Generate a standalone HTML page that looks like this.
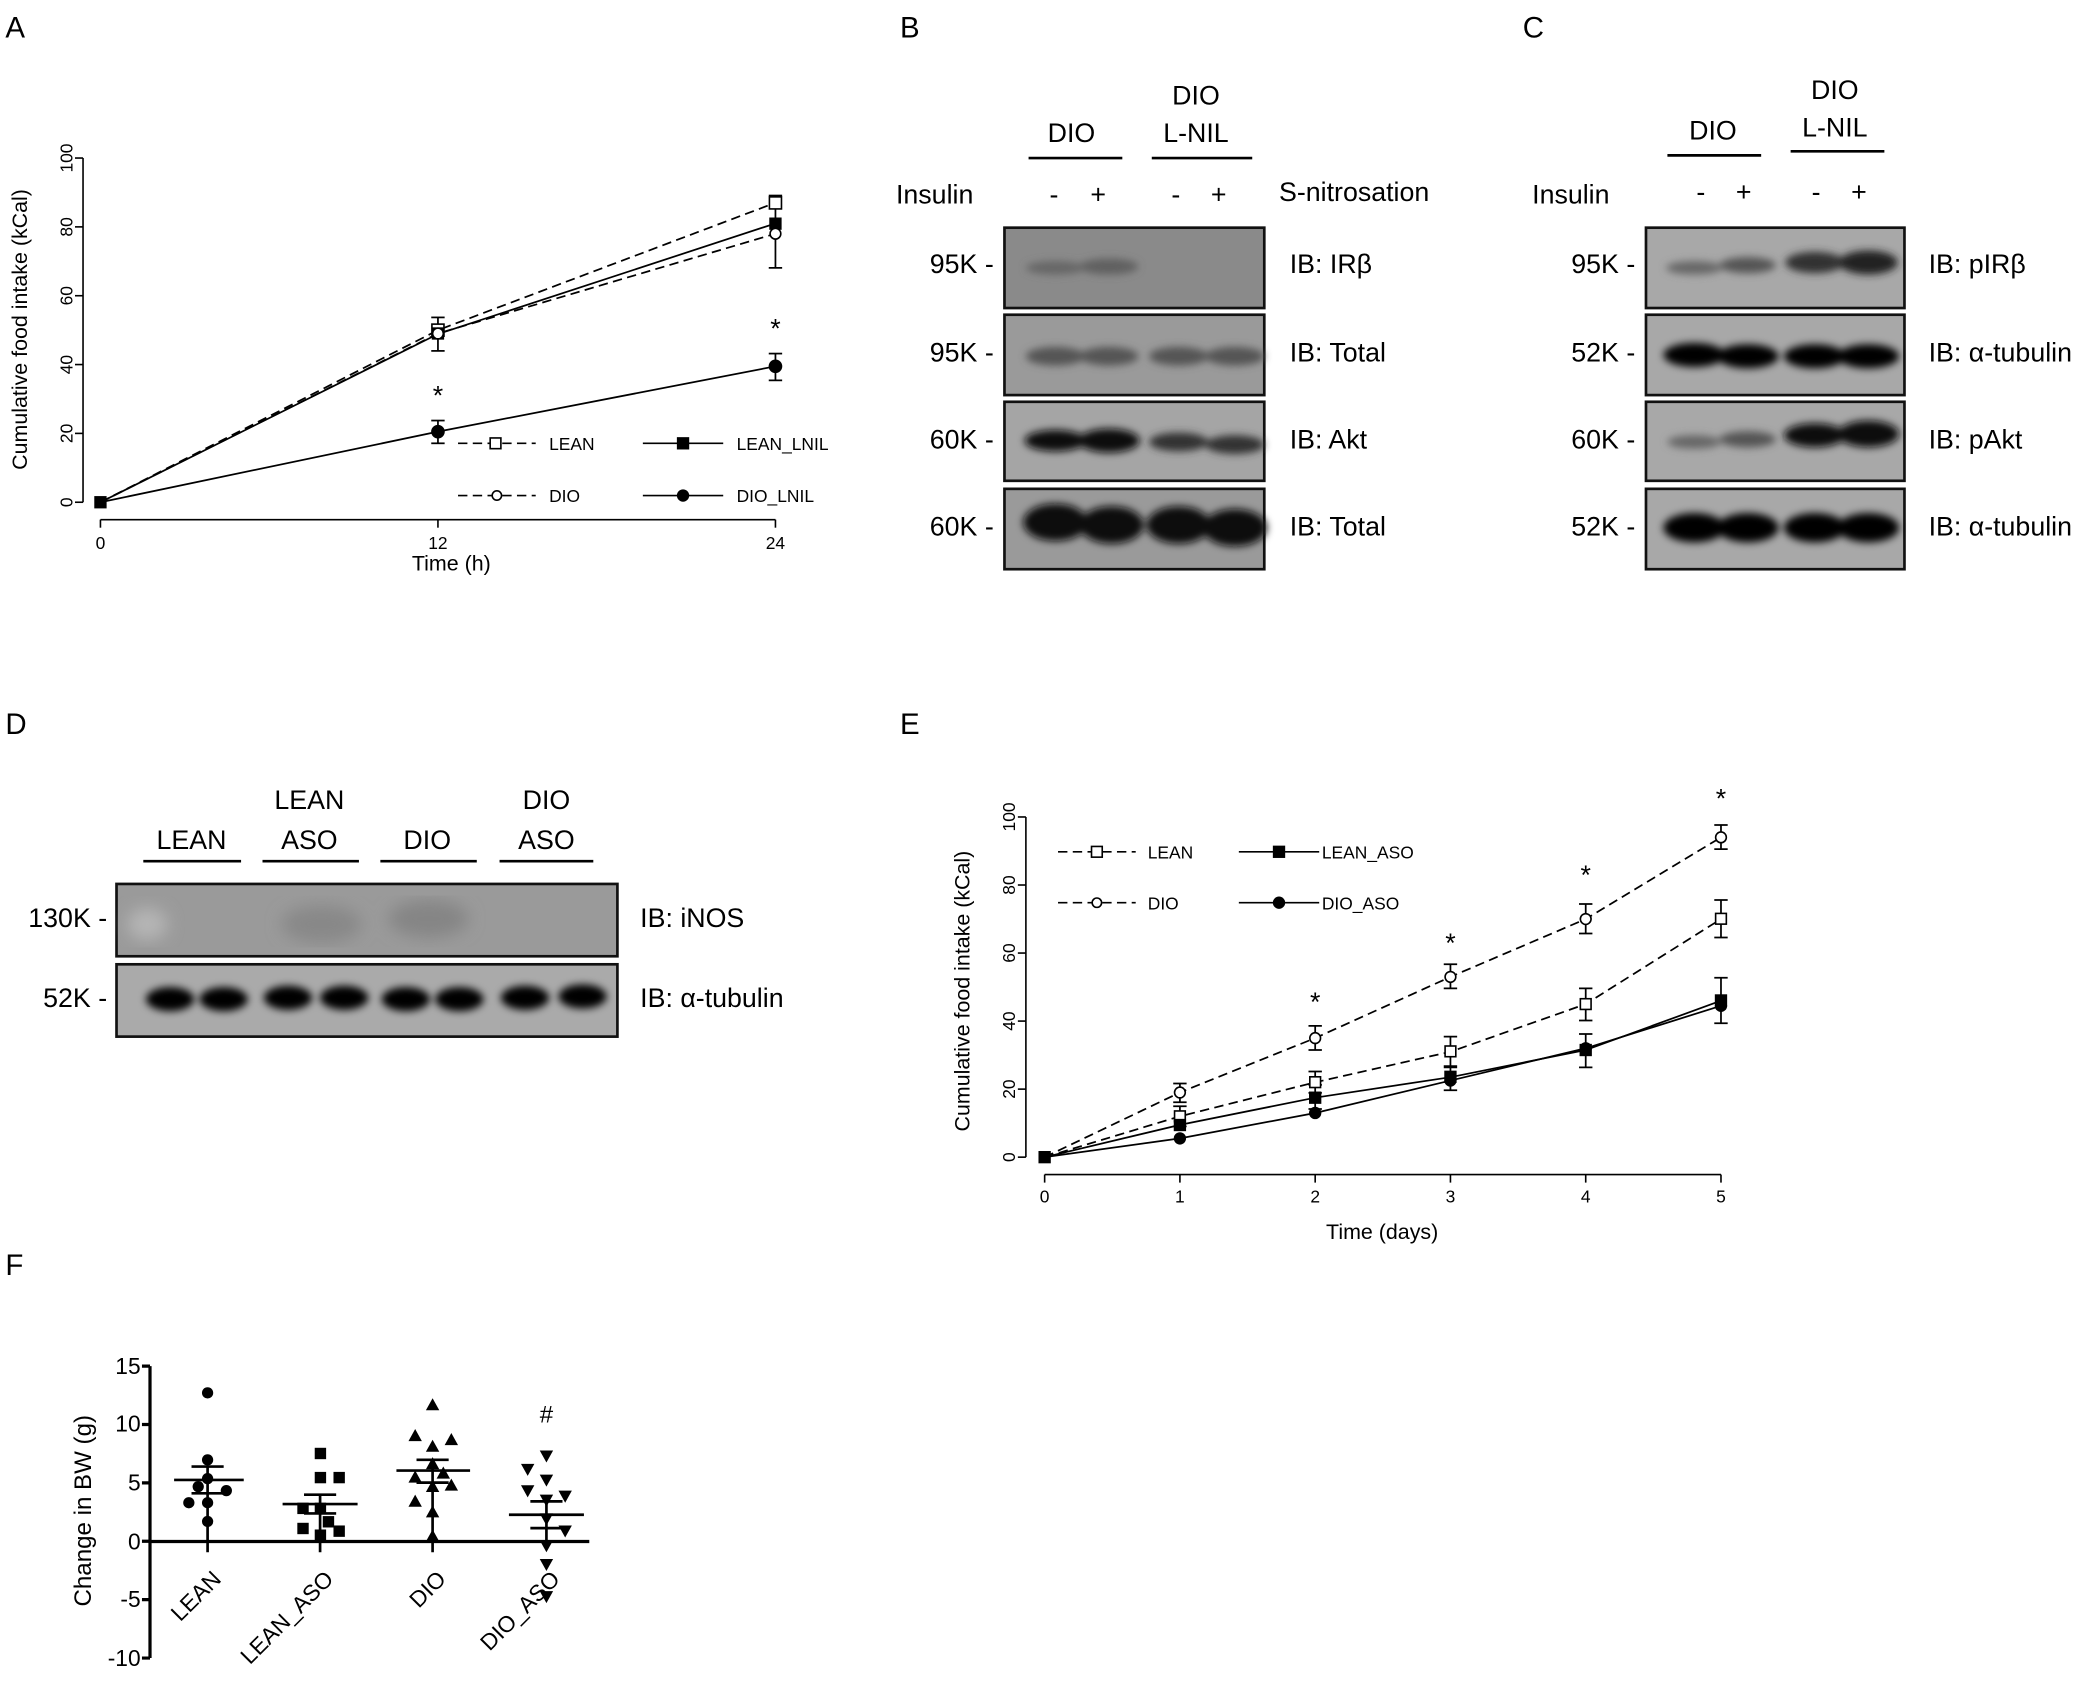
<!DOCTYPE html>
<html><head><meta charset="utf-8"><style>html,body{margin:0;padding:0;background:#fff}svg{display:block}</style></head><body>
<svg width="2100" height="1704" viewBox="0 0 1568 1272.3" preserveAspectRatio="none" xmlns="http://www.w3.org/2000/svg" font-family="Liberation Sans, sans-serif">
<defs>
<filter id="bl" x="-20%" y="-50%" width="140%" height="200%"><feGaussianBlur stdDeviation="3"/></filter>
<filter id="bl2"><feGaussianBlur stdDeviation="6"/></filter>
</defs>
<g font-size="22" fill="#000">
<text x="4" y="28">A</text><text x="672" y="28">B</text><text x="1137" y="28">C</text>
<text x="4" y="548">D</text><text x="672" y="548">E</text><text x="4" y="952">F</text>
</g>

<!-- Panel A -->
<g stroke="#000" stroke-width="1.2" fill="none">
<line x1="62" y1="118" x2="62" y2="375"/>
<line x1="56" y1="375" x2="62" y2="375"/><line x1="56" y1="323.6" x2="62" y2="323.6"/><line x1="56" y1="272.2" x2="62" y2="272.2"/><line x1="56" y1="220.8" x2="62" y2="220.8"/><line x1="56" y1="169.4" x2="62" y2="169.4"/><line x1="56" y1="118" x2="62" y2="118"/>
<line x1="75" y1="388" x2="579" y2="388"/>
<line x1="75" y1="388" x2="75" y2="394"/><line x1="327" y1="388" x2="327" y2="394"/><line x1="579" y1="388" x2="579" y2="394"/>
</g>
<g font-size="13" text-anchor="middle">
<text transform="translate(50,375) rotate(-90)" dy="4">0</text><text transform="translate(50,323.6) rotate(-90)" dy="4">20</text><text transform="translate(50,272.2) rotate(-90)" dy="4">40</text><text transform="translate(50,220.8) rotate(-90)" dy="4">60</text><text transform="translate(50,169.4) rotate(-90)" dy="4">80</text><text transform="translate(50,118) rotate(-90)" dy="4">100</text>
<text x="75" y="410">0</text><text x="327" y="410">12</text><text x="579" y="410">24</text>
<text x="337" y="426" font-size="16">Time (h)</text>
<text transform="translate(20,246) rotate(-90)" font-size="16">Cumulative food intake (kCal)</text>
</g>
<g stroke="#000" stroke-width="1.3" fill="none">
<polyline points="75,375 327,246.5 579,151.4" stroke-dasharray="7,4"/>
<polyline points="75,375 327,249.4 579,166.8"/>
<polyline points="75,375 327,249 579,174.5" stroke-dasharray="7,4"/>
<polyline points="75,375 327,322.3 579,273.5"/>
<line x1="327" y1="237" x2="327" y2="262"/><line x1="322" y1="237" x2="332" y2="237"/><line x1="322" y1="262" x2="332" y2="262"/>
<line x1="579" y1="146" x2="579" y2="200"/><line x1="574" y1="146" x2="584" y2="146"/><line x1="574" y1="200" x2="584" y2="200"/>
<line x1="327" y1="314" x2="327" y2="331"/><line x1="322" y1="314" x2="332" y2="314"/><line x1="322" y1="331" x2="332" y2="331"/>
<line x1="579" y1="264" x2="579" y2="284"/><line x1="574" y1="264" x2="584" y2="264"/><line x1="574" y1="284" x2="584" y2="284"/>
</g>
<g stroke="#000" stroke-width="1.2">
<rect x="322.5" y="242" width="9" height="9" fill="#fff"/><rect x="574.5" y="147" width="9" height="9" fill="#fff"/>
<rect x="323" y="245" width="8" height="8" fill="#000"/><rect x="575" y="163" width="8" height="8" fill="#000"/>
<circle cx="327" cy="249" r="4" fill="#fff"/><circle cx="579" cy="174.5" r="4" fill="#fff"/>
<circle cx="327" cy="322.3" r="4.5" fill="#000"/><circle cx="579" cy="273.5" r="4.5" fill="#000"/>
<rect x="71" y="371" width="8" height="8" fill="#000"/>
</g>
<g font-size="20" text-anchor="middle"><text x="327" y="302">*</text><text x="579" y="252">*</text></g>
<g stroke="#000" stroke-width="1.2">
<line x1="342" y1="331" x2="400" y2="331" stroke-dasharray="7,4"/><rect x="366" y="327" width="8" height="8" fill="#fff"/>
<line x1="480" y1="331" x2="540" y2="331"/><rect x="506" y="327" width="8" height="8" fill="#000"/>
<line x1="342" y1="370" x2="400" y2="370" stroke-dasharray="7,4"/><circle cx="371" cy="370" r="3.5" fill="#fff"/>
<line x1="480" y1="370" x2="540" y2="370"/><circle cx="510" cy="370" r="4" fill="#000"/>
</g>
<g font-size="13"><text x="410" y="336">LEAN</text><text x="550" y="336">LEAN_LNIL</text><text x="410" y="375">DIO</text><text x="550" y="375">DIO_LNIL</text></g>

<!-- Panel B -->
<g font-family="Liberation Sans, DejaVu Sans, sans-serif" font-size="20">
<text x="800" y="106" text-anchor="middle">DIO</text>
<text x="893" y="78" text-anchor="middle">DIO</text><text x="893" y="106" text-anchor="middle">L-NIL</text>
<line x1="768" y1="118" x2="838" y2="118" stroke="#000" stroke-width="2"/>
<line x1="860" y1="118" x2="935" y2="118" stroke="#000" stroke-width="2"/>
<text x="669" y="152">Insulin</text><text x="787" y="152" text-anchor="middle">-</text><text x="820" y="152" text-anchor="middle">+</text><text x="878" y="152" text-anchor="middle">-</text><text x="910" y="152" text-anchor="middle">+</text>
<text x="955" y="150">S-nitrosation</text>
<text x="742" y="204" text-anchor="end">95K -</text><text x="742" y="270" text-anchor="end">95K -</text><text x="742" y="335" text-anchor="end">60K -</text><text x="742" y="400" text-anchor="end">60K -</text>
<text x="963" y="204">IB: IRβ</text><text x="963" y="270">IB: Total</text><text x="963" y="335">IB: Akt</text><text x="963" y="400">IB: Total</text>
</g>
<g stroke="#111" stroke-width="2">
<rect x="750" y="170" width="194" height="60" fill="#8a8a8a"/>
<rect x="750" y="235" width="194" height="60" fill="#9a9a9a"/>
<rect x="750" y="300" width="194" height="59" fill="#a5a5a5"/>
<rect x="750" y="365" width="194" height="60" fill="#9a9a9a"/>
</g>
<g filter="url(#bl)">
<ellipse cx="788" cy="200" rx="22" ry="5" fill="#666"/><ellipse cx="828" cy="199" rx="22" ry="6" fill="#606060"/>
<ellipse cx="788" cy="266" rx="22" ry="7" fill="#555"/><ellipse cx="828" cy="266" rx="22" ry="7" fill="#555"/><ellipse cx="880" cy="266" rx="22" ry="7" fill="#555"/><ellipse cx="922" cy="266" rx="22" ry="7" fill="#555"/>
<ellipse cx="788" cy="329" rx="23" ry="8" fill="#111"/><ellipse cx="828" cy="329" rx="23" ry="9" fill="#111"/><ellipse cx="880" cy="330" rx="22" ry="7" fill="#333"/><ellipse cx="922" cy="332" rx="22" ry="7" fill="#333"/>
<ellipse cx="788" cy="390" rx="24" ry="14" fill="#111"/><ellipse cx="830" cy="392" rx="24" ry="14" fill="#111"/><ellipse cx="880" cy="392" rx="24" ry="14" fill="#111"/><ellipse cx="922" cy="394" rx="24" ry="14" fill="#111"/>
</g>

<!-- Panel C -->
<g font-size="20">
<text x="1279" y="104" text-anchor="middle">DIO</text>
<text x="1370" y="74" text-anchor="middle">DIO</text><text x="1370" y="102" text-anchor="middle">L-NIL</text>
<line x1="1245" y1="116" x2="1315" y2="116" stroke="#000" stroke-width="2"/>
<line x1="1337" y1="113" x2="1407" y2="113" stroke="#000" stroke-width="2"/>
<text x="1144" y="152">Insulin</text><text x="1270" y="150" text-anchor="middle">-</text><text x="1302" y="150" text-anchor="middle">+</text><text x="1356" y="150" text-anchor="middle">-</text><text x="1388" y="150" text-anchor="middle">+</text>
<text x="1221" y="204" text-anchor="end">95K -</text><text x="1221" y="270" text-anchor="end">52K -</text><text x="1221" y="335" text-anchor="end">60K -</text><text x="1221" y="400" text-anchor="end">52K -</text>
<text x="1440" y="204">IB: pIRβ</text><text x="1440" y="270">IB: α-tubulin</text><text x="1440" y="335">IB: pAkt</text><text x="1440" y="400">IB: α-tubulin</text>
</g>
<g stroke="#111" stroke-width="2">
<rect x="1229" y="170" width="193" height="60" fill="#a8a8a8"/>
<rect x="1229" y="235" width="193" height="60" fill="#a8a8a8"/>
<rect x="1229" y="300" width="193" height="59" fill="#a8a8a8"/>
<rect x="1229" y="365" width="193" height="60" fill="#a8a8a8"/>
</g>
<g filter="url(#bl)">
<ellipse cx="1265" cy="200" rx="21" ry="5" fill="#666"/><ellipse cx="1305" cy="198" rx="21" ry="6" fill="#555"/><ellipse cx="1355" cy="196" rx="22" ry="8" fill="#333"/><ellipse cx="1395" cy="196" rx="22" ry="9" fill="#222"/>
<ellipse cx="1265" cy="265" rx="23" ry="9" fill="#000"/><ellipse cx="1305" cy="266" rx="23" ry="9" fill="#000"/><ellipse cx="1355" cy="266" rx="23" ry="9" fill="#000"/><ellipse cx="1395" cy="266" rx="23" ry="9" fill="#000"/>
<ellipse cx="1265" cy="330" rx="20" ry="5" fill="#666"/><ellipse cx="1305" cy="328" rx="21" ry="6" fill="#555"/><ellipse cx="1355" cy="325" rx="23" ry="9" fill="#111"/><ellipse cx="1395" cy="324" rx="23" ry="10" fill="#111"/>
<ellipse cx="1265" cy="394" rx="23" ry="11" fill="#000"/><ellipse cx="1305" cy="394" rx="23" ry="11" fill="#000"/><ellipse cx="1355" cy="394" rx="23" ry="11" fill="#000"/><ellipse cx="1395" cy="394" rx="23" ry="11" fill="#000"/>
</g>

<!-- Panel D -->
<g font-size="20">
<text x="143" y="634" text-anchor="middle">LEAN</text>
<text x="231" y="604" text-anchor="middle">LEAN</text><text x="231" y="634" text-anchor="middle">ASO</text>
<text x="319" y="634" text-anchor="middle">DIO</text>
<text x="408" y="604" text-anchor="middle">DIO</text><text x="408" y="634" text-anchor="middle">ASO</text>
<g stroke="#000" stroke-width="2"><line x1="107" y1="643" x2="180" y2="643"/><line x1="196" y1="643" x2="268" y2="643"/><line x1="284" y1="643" x2="356" y2="643"/><line x1="373" y1="643" x2="443" y2="643"/></g>
<text x="80" y="692" text-anchor="end">130K -</text><text x="80" y="752" text-anchor="end">52K -</text>
<text x="478" y="692">IB: iNOS</text><text x="478" y="752">IB: α-tubulin</text>
</g>
<g stroke="#111" stroke-width="2">
<rect x="87" y="660" width="374" height="54" fill="#9a9a9a"/>
<rect x="87" y="720" width="374" height="54" fill="#aaa"/>
</g>
<g filter="url(#bl2)"><ellipse cx="240" cy="690" rx="30" ry="14" fill="#888"/><ellipse cx="320" cy="686" rx="30" ry="14" fill="#858585"/><ellipse cx="110" cy="690" rx="15" ry="12" fill="#b5b5b5"/></g>
<g filter="url(#bl)">
<ellipse cx="127" cy="746" rx="18" ry="9" fill="#000"/><ellipse cx="167" cy="746" rx="18" ry="9" fill="#000"/><ellipse cx="215" cy="745" rx="18" ry="9" fill="#000"/><ellipse cx="257" cy="745" rx="18" ry="9" fill="#000"/>
<ellipse cx="303" cy="746" rx="18" ry="9" fill="#000"/><ellipse cx="343" cy="746" rx="18" ry="9" fill="#000"/><ellipse cx="392" cy="745" rx="18" ry="9" fill="#000"/><ellipse cx="435" cy="744" rx="18" ry="9" fill="#000"/>
</g>

<!-- Panel E -->
<g stroke="#000" stroke-width="1.2" fill="none">
<line x1="766" y1="610" x2="766" y2="864"/>
<line x1="760" y1="864" x2="766" y2="864"/><line x1="760" y1="813.2" x2="766" y2="813.2"/><line x1="760" y1="762.4" x2="766" y2="762.4"/><line x1="760" y1="711.6" x2="766" y2="711.6"/><line x1="760" y1="660.8" x2="766" y2="660.8"/><line x1="760" y1="610" x2="766" y2="610"/>
<line x1="780" y1="877" x2="1285" y2="877"/>
<line x1="780" y1="877" x2="780" y2="883"/><line x1="881" y1="877" x2="881" y2="883"/><line x1="982" y1="877" x2="982" y2="883"/><line x1="1083" y1="877" x2="1083" y2="883"/><line x1="1184" y1="877" x2="1184" y2="883"/><line x1="1285" y1="877" x2="1285" y2="883"/>
</g>
<g font-size="13" text-anchor="middle">
<text transform="translate(754,864) rotate(-90)" dy="4">0</text><text transform="translate(754,813.2) rotate(-90)" dy="4">20</text><text transform="translate(754,762.4) rotate(-90)" dy="4">40</text><text transform="translate(754,711.6) rotate(-90)" dy="4">60</text><text transform="translate(754,660.8) rotate(-90)" dy="4">80</text><text transform="translate(754,610) rotate(-90)" dy="4">100</text>
<text x="780" y="898">0</text><text x="881" y="898">1</text><text x="982" y="898">2</text><text x="1083" y="898">3</text><text x="1184" y="898">4</text><text x="1285" y="898">5</text>
<text x="1032" y="925" font-size="16">Time (days)</text>
<text transform="translate(724,740) rotate(-90)" font-size="16">Cumulative food intake (kCal)</text>
</g>
<g stroke="#000" stroke-width="1.3" fill="none">
<polyline points="780,864 881,815.7 982,775.1 1083,729.4 1184,686.2 1285,625.2" stroke-dasharray="7,4"/>
<polyline points="780,864 881,833.5 982,808.1 1083,785.3 1184,749.7 1285,686.2" stroke-dasharray="7,4"/>
<polyline points="780,864 881,839.9 982,819.6 1083,804.3 1184,784 1285,747.2"/>
<polyline points="780,864 881,850 982,831 1083,806.8 1184,782.7 1285,751"/>
<path d="M881,809v14M876,809h10M876,823h10 M982,766v18M977,766h10M977,784h10 M1083,720v18M1078,720h10M1078,738h10 M1184,675v22M1179,675h10M1179,697h10 M1285,616v18M1280,616h10M1280,634h10
M881,826v15M876,826h10M876,841h10 M982,800v16M977,800h10M977,816h10 M1083,774v23M1078,774h10M1078,797h10 M1184,738v24M1179,738h10M1179,762h10 M1285,672v28M1280,672h10M1280,700h10
M982,810v18M977,810h10M977,828h10 M1083,796v18M1078,796h10M1078,814h10 M1184,772v25M1179,772h10M1179,797h10 M1285,730v34M1280,730h10M1280,764h10"/>
</g>
<g stroke="#000" stroke-width="1.2">
<circle cx="881" cy="815.7" r="4" fill="#fff"/><circle cx="982" cy="775.1" r="4" fill="#fff"/><circle cx="1083" cy="729.4" r="4" fill="#fff"/><circle cx="1184" cy="686.2" r="4" fill="#fff"/><circle cx="1285" cy="625.2" r="4" fill="#fff"/>
<rect x="877" y="829.5" width="8" height="8" fill="#fff"/><rect x="978" y="804" width="8" height="8" fill="#fff"/><rect x="1079" y="781" width="8" height="8" fill="#fff"/><rect x="1180" y="745.7" width="8" height="8" fill="#fff"/><rect x="1281" y="682" width="8" height="8" fill="#fff"/>
<rect x="877" y="836" width="8" height="8" fill="#000"/><rect x="978" y="815.6" width="8" height="8" fill="#000"/><rect x="1079" y="800" width="8" height="8" fill="#000"/><rect x="1180" y="780" width="8" height="8" fill="#000"/><rect x="1281" y="743" width="8" height="8" fill="#000"/>
<circle cx="881" cy="850" r="4" fill="#000"/><circle cx="982" cy="831" r="4" fill="#000"/><circle cx="1083" cy="806.8" r="4" fill="#000"/><circle cx="1184" cy="782.7" r="4" fill="#000"/><circle cx="1285" cy="751" r="4" fill="#000"/>
<rect x="776" y="860" width="8" height="8" fill="#000"/>
</g>
<g font-size="20" text-anchor="middle"><text x="982" y="755">*</text><text x="1083" y="711">*</text><text x="1184" y="660">*</text><text x="1285" y="603">*</text></g>
<g stroke="#000" stroke-width="1.2">
<line x1="790" y1="636" x2="848" y2="636" stroke-dasharray="7,4"/><rect x="815" y="632" width="8" height="8" fill="#fff"/>
<line x1="925" y1="636" x2="985" y2="636"/><rect x="951" y="632" width="8" height="8" fill="#000"/>
<line x1="790" y1="674" x2="848" y2="674" stroke-dasharray="7,4"/><circle cx="819" cy="674" r="3.5" fill="#fff"/>
<line x1="925" y1="674" x2="985" y2="674"/><circle cx="955" cy="674" r="4" fill="#000"/>
</g>
<g font-size="13"><text x="857" y="641">LEAN</text><text x="987" y="641">LEAN_ASO</text><text x="857" y="679">DIO</text><text x="987" y="679">DIO_ASO</text></g>

<!-- Panel F -->
<g stroke="#000" stroke-width="2.4" fill="none">
<line x1="112" y1="1020" x2="112" y2="1238"/>
<path d="M106,1020h6M106,1063.6h6M106,1107.2h6M106,1150.8h6M106,1194.4h6M106,1238h6"/>
<line x1="112" y1="1151" x2="440" y2="1151"/>
</g>
<g font-size="17" text-anchor="end">
<text x="105" y="1026">15</text><text x="105" y="1069">10</text><text x="105" y="1113">5</text><text x="105" y="1157">0</text><text x="105" y="1200">-5</text><text x="105" y="1244">-10</text>
</g>
<text transform="translate(68,1128) rotate(-90)" font-size="18" text-anchor="middle">Change in BW (g)</text>
<g font-size="17" text-anchor="end">
<text transform="translate(166,1180) rotate(-45)">LEAN</text><text transform="translate(250,1180) rotate(-45)">LEAN_ASO</text><text transform="translate(334,1180) rotate(-45)">DIO</text><text transform="translate(419,1180) rotate(-45)">DIO_ASO</text>
</g>
<text x="408" y="1062" font-size="18" text-anchor="middle">#</text>
<g stroke="#000" stroke-width="2">
<path d="M130,1105h52M155,1095v64M143,1095h24M143,1115h24
M211,1123h56M239,1116v43M227,1116h24M227,1130h24
M296,1098h55M323,1090v69M311,1090h24M311,1107h24
M380,1131h56M408,1121v34M396,1121h24M396,1141h24"/>
</g>
<g fill="#000">
<circle cx="155" cy="1040" r="4.2"/><circle cx="155" cy="1090" r="4.2"/><circle cx="155" cy="1104" r="4.2"/><circle cx="148" cy="1110" r="4.2"/><circle cx="169" cy="1113" r="4.2"/><circle cx="141" cy="1122" r="4.2"/><circle cx="155" cy="1122" r="4.2"/><circle cx="155" cy="1136" r="4.2"/>
<rect x="235" y="1081" width="8.5" height="8.5"/><rect x="235" y="1099" width="8.5" height="8.5"/><rect x="249" y="1099" width="8.5" height="8.5"/><rect x="222" y="1122" width="8.5" height="8.5"/><rect x="235" y="1122" width="8.5" height="8.5"/><rect x="222" y="1137" width="8.5" height="8.5"/><rect x="241" y="1132" width="8.5" height="8.5"/><rect x="249" y="1139" width="8.5" height="8.5"/><rect x="235" y="1142" width="8.5" height="8.5"/>
<path d="M323,1044l5,9h-10z M310,1067l5,9h-10z M337,1070l5,9h-10z M323,1075l5,9h-10z M323,1088l5,9h-10z M310,1098l5,9h-10z M331,1095l5,9h-10z M323,1105l5,9h-10z M337,1104l5,9h-10z M310,1116l5,9h-10z M323,1124l5,9h-10z M323,1142l5,9h-10z"/>
<path d="M403,1083l5,9l5,-9z M389,1093l5,9l5,-9z M403,1101l5,9l5,-9z M389,1109l5,9l5,-9z M417,1113l5,9l5,-9z M403,1116l5,9l5,-9z M403,1130l5,9l5,-9z M417,1139l5,9l5,-9z M403,1150l5,9l5,-9z M403,1164l5,9l5,-9z M403,1188l5,9l5,-9z"/>
</g>
</svg>
</body></html>
